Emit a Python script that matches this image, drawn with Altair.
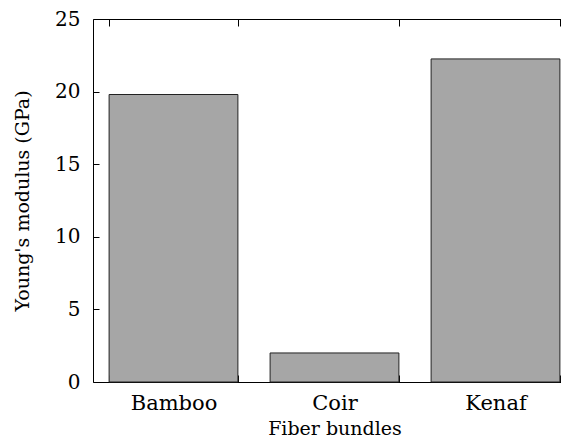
import altair as alt
import pandas as pd

categories = ["Bamboo", "Coir", "Kenaf"]
modulus = [19.8, 2.0, 22.25]
y_ticks = [0, 5, 10, 15, 20, 25]

df = pd.DataFrame({"fiber": categories, "modulus": modulus})

FONT = "DejaVu Serif"

xscale = alt.Scale(paddingInner=0.2, paddingOuter=0.1, range=[0, 483])
yscale = alt.Scale(domain=[0, 25])

bars = alt.Chart(df).mark_bar(color="#a6a6a6", stroke="#222222", strokeWidth=1).encode(
    x=alt.X("fiber:N", sort=categories, scale=xscale,
            axis=alt.Axis(title="Fiber bundles", labelAngle=0, tickBand="extent",
                          tickSize=alt.ExprRef(expr="-7"), labelPadding=17, titlePadding=6,
                          labelFontSize=21, titleFontSize=19)),
    y=alt.Y("modulus:Q", scale=yscale,
            axis=alt.Axis(title="Young's modulus (GPa)", values=y_ticks,
                          tickSize=alt.ExprRef(expr="-6"), labelPadding=19, titlePadding=22,
                          labelFontSize=20, titleFontSize=19)),
)

mirror = alt.Chart(df).mark_bar(opacity=0).encode(
    x=alt.X("fiber:N", sort=categories, scale=xscale,
            axis=alt.Axis(orient="top", title=None, labels=False, tickBand="extent",
                          tickSize=alt.ExprRef(expr="-7"))),
    y=alt.Y("modulus:Q", scale=yscale,
            axis=alt.Axis(orient="right", title=None, labels=False, ticks=False,
                          domain=False, values=y_ticks)),
)

chart = alt.layer(bars, mirror).resolve_axis(x="independent", y="independent").properties(
    width=468, height=363,
    autosize=alt.AutoSizeParams(type="none"),
    padding={"left": 85, "top": 11, "right": 0, "bottom": 55},
).configure(font=FONT).configure_view(stroke=None).configure_axis(
    grid=False, domainColor="black", tickColor="black", domainWidth=1, tickWidth=1,
    labelFont=FONT, titleFont=FONT,
    labelColor="black", titleColor="black", titleFontWeight="normal",
)

chart.save("out.html", embed_options={"renderer": "svg", "actions": False})
